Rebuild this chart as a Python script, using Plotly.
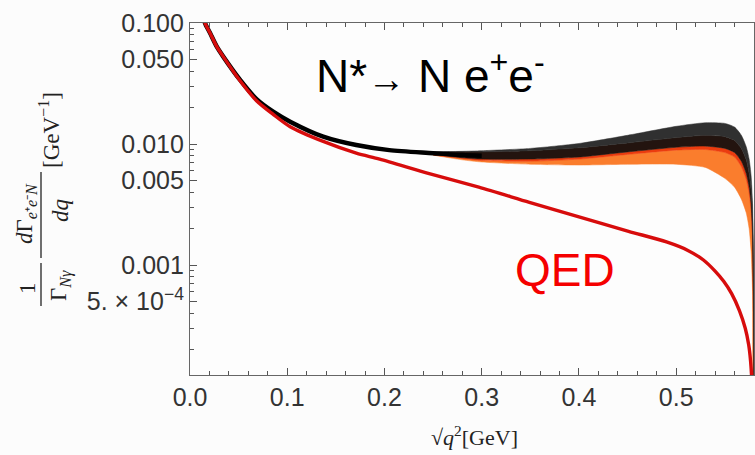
import plotly.graph_objects as go

# ---- data ----
qed_x = [0.0140, 0.0154, 0.0205, 0.0274, 0.034, 0.0513, 0.0684, 0.0855, 0.103, 0.137,
         0.171, 0.195, 0.246, 0.297, 0.349, 0.400, 0.451, 0.490, 0.512, 0.528, 0.540,
         0.549, 0.557, 0.565, 0.571, 0.5745, 0.5765, 0.578, 0.579]
qed_y = [0.115, 0.100, 0.083, 0.064, 0.053, 0.0335, 0.0228, 0.0176, 0.0139, 0.0105,
         0.0084, 0.0075, 0.0057, 0.0044, 0.0033, 0.0025, 0.0019, 0.00155, 0.00132, 0.00110, 0.00089,
         0.00073, 0.00058, 0.00042, 0.00030, 0.00022, 0.00016, 0.00010, 0.00004]

full_x = [0.0140, 0.0154, 0.0205, 0.0274, 0.034, 0.0513, 0.0684, 0.0855, 0.103, 0.137,
          0.171, 0.205, 0.25, 0.28, 0.30]
full_y = [0.115, 0.100, 0.083, 0.064, 0.053, 0.034, 0.0235, 0.0185, 0.0153, 0.0115,
          0.0098, 0.0089, 0.0084, 0.0081, 0.0080]

band_x = [0.25, 0.28, 0.30, 0.35, 0.40, 0.45, 0.50, 0.53, 0.55, 0.56,
          0.567, 0.572, 0.575, 0.577, 0.5785, 0.5795, 0.5800]
grey_top = [0.0086, 0.0087, 0.0088, 0.0092, 0.0101, 0.0118, 0.0140, 0.0150, 0.0148, 0.0138,
            0.0118, 0.0095, 0.0075, 0.0055, 0.0032, 0.0008, 0.0001]
black_top = [0.0086, 0.0086, 0.0086, 0.0088, 0.0093, 0.0102, 0.0113, 0.0118, 0.0115, 0.0107,
             0.0092, 0.0074, 0.0057, 0.0042, 0.0024, 0.0006, 0.0001]
black_bot = [0.0082, 0.0077, 0.0075, 0.0075, 0.0078, 0.0086, 0.0094, 0.0096, 0.0092, 0.0085,
             0.0072, 0.0057, 0.0044, 0.0032, 0.0018, 0.0004, 0.0001]
red_bot = [0.0081, 0.0076, 0.0073, 0.0072, 0.0075, 0.0082, 0.0089, 0.0090, 0.0085, 0.0078,
           0.0065, 0.0051, 0.0039, 0.0028, 0.0015, 0.0003, 0.0001]
orange_bot = [0.0081, 0.0074, 0.0071, 0.0068, 0.0067, 0.0068, 0.0068, 0.0064, 0.0052, 0.0044,
              0.0035, 0.0027, 0.0020, 0.0013, 0.0006, 0.0001, 0.0001]

x_tickvals = [0.0, 0.1, 0.2, 0.3, 0.4, 0.5]
x_ticktext = ["0.0", "0.1", "0.2", "0.3", "0.4", "0.5"]
y_tickvals = [0.1, 0.05, 0.01, 0.005, 0.001, 0.0005]
y_ticktext = ["0.100", "0.050", "0.010", "0.005", "0.001", "5. × 10<sup>−4</sup>"]
y_minor = [0.06, 0.07, 0.08, 0.09, 0.02, 0.03, 0.04, 0.006, 0.007, 0.008, 0.009,
           0.002, 0.003, 0.004, 0.0006, 0.0007, 0.0008, 0.0009, 0.0002, 0.0003, 0.0004]

L, R, T, B = 190, 1, 23, 80
W, H = 755, 455
plot_w, plot_h = W - L - R, H - T - B


def px(xp):
    return (xp - L) / plot_w


def py(yp):
    return 1 - (yp - T) / plot_h


def band(upper, lower, color, name):
    return go.Scatter(
        x=band_x + band_x[::-1], y=upper + lower[::-1],
        fill="toself", fillcolor=color, mode="lines",
        line=dict(color=color, width=0.5, shape="spline", smoothing=0.6), name=name,
        hoverinfo="skip", showlegend=False)


fig = go.Figure()
fig.add_trace(band(red_bot, orange_bot, "rgb(250,125,45)", "orange"))
fig.add_trace(band(black_bot, red_bot, "rgb(235,60,15)", "red"))
fig.add_trace(band(black_top, black_bot, "rgb(35,20,15)", "black"))
fig.add_trace(band(grey_top, black_top, "rgb(48,48,48)", "grey"))
fig.add_trace(go.Scatter(x=full_x, y=full_y, mode="lines",
                         line=dict(color="black", width=4.5, shape="spline", smoothing=0.8),
                         showlegend=False))
fig.add_trace(go.Scatter(x=qed_x, y=qed_y, mode="lines",
                         line=dict(color="rgb(215,12,12)", width=3.4, shape="spline", smoothing=0.8),
                         showlegend=False))

tickfont = dict(family="Liberation Sans, Arial, sans-serif", size=25, color="#333")
fig.update_layout(
    width=W, height=H,
    margin=dict(l=L, r=R, t=T, b=B),
    paper_bgcolor="#fcfcfc", plot_bgcolor="#fdfdfd",
    showlegend=False,
    xaxis=dict(range=[0, 0.58], tickmode="array", tickvals=x_tickvals, ticktext=x_ticktext,
               ticks="inside", ticklen=7, tickcolor="#555", showgrid=False, zeroline=False,
               showline=True, linecolor="#666", linewidth=1.2, mirror="allticks",
               tickfont=tickfont,
               minor=dict(dtick=0.02, ticks="inside", ticklen=4, tickcolor="#555", showgrid=False)),
    yaxis=dict(type="log", range=[-3.909, -1], tickmode="array", tickvals=y_tickvals,
               ticktext=y_ticktext, ticks="inside", ticklen=7, tickcolor="#555",
               showgrid=False, zeroline=False, showline=True, linecolor="#666", linewidth=1.2,
               mirror=True, tickfont=tickfont,
               minor=dict(tickmode="array", tickvals=y_minor, ticks="inside", ticklen=4,
                          tickcolor="#555", showgrid=False)),
)

serif = dict(family="Liberation Serif, Times New Roman, serif", size=23, color="#222")


def ann(text, xp, yp, font, angle=0):
    fig.add_annotation(x=px(xp), y=py(yp), xref="paper", yref="paper", showarrow=False,
                       text=text, font=font, textangle=angle,
                       xanchor="center", yanchor="middle")


# y-axis title built as a rotated fraction
ann("1", 27, 288, serif, -90)
ann("Γ<sub><i>Nγ</i></sub>", 60, 286, serif, -90)
ann("<i>d</i>Γ<sub><i>e</i>⁺<i>e</i>⁻<i>N</i></sub>", 26, 214, serif, -90)
ann("<i>dq</i>", 60, 211, serif, -90)
ann("[GeV<sup>−1</sup>]", 49, 130, serif, -90)
for y0, y1 in [(263, 306), (172, 258)]:
    fig.add_shape(type="line", xref="paper", yref="paper",
                  x0=px(41), x1=px(41), y0=py(y0), y1=py(y1),
                  line=dict(color="#222", width=1.3))

# x-axis title
ann("√<i>q</i><sup>2</sup>[GeV]", 474, 436, dict(serif, size=22))

# in-plot labels
ann("N*<span style='font-size:38px'>→</span> N e<sup>+</sup>e<sup>-</sup>", 430, 73,
    dict(family="Liberation Sans, Arial, sans-serif", size=46, color="black"))
ann("QED", 565, 270, dict(family="Liberation Sans, Arial, sans-serif", size=46, color="rgb(245,0,0)"))

fig.write_html("out.html")
